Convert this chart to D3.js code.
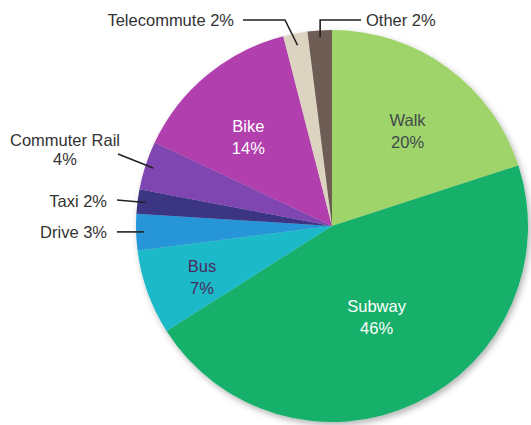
<!DOCTYPE html>
<html>
<head>
<meta charset="utf-8">
<script src="https://cdn.jsdelivr.net/npm/d3@7"></script>
<style>
  body { margin: 0; background: #fff; }
  text { font-family: "Liberation Sans", Arial, sans-serif; font-size: 16.5px; }
</style>
</head>
<body>
<div id="chart"></div>
<script>
// DATA
const modes = ["Walk", "Subway", "Bus", "Drive", "Taxi", "Commuter Rail", "Bike", "Telecommute", "Other"];
const shares = [20, 46, 7, 3, 2, 4, 14, 2, 2];
const colors = ["#9fd46b", "#17b06b", "#1cb9c9", "#2596d8", "#3b3484", "#7f45b1", "#b13fae", "#ddd3c1", "#6d5d55"];

const W = 531, H = 425;
const cx = 332, cy = 226, radius = 196;

const svg = d3.select("#chart").append("svg")
  .attr("width", W)
  .attr("height", H);

// soft shadow under the pie
const defs = svg.append("defs");
defs.append("filter")
  .attr("id", "shadow")
  .attr("x", "-20%").attr("y", "-20%")
  .attr("width", "140%").attr("height", "140%")
  .append("feDropShadow")
  .attr("dx", 2).attr("dy", 3)
  .attr("stdDeviation", 3)
  .attr("flood-color", "#000")
  .attr("flood-opacity", 0.3);

const g = svg.append("g").attr("transform", `translate(${cx},${cy})`);

const pie = d3.pie().sort(null).value(d => d.value);
const arcs = pie(modes.map((m, i) => ({ name: m, value: shares[i], color: colors[i] })));

const arc = d3.arc().innerRadius(0).outerRadius(radius);

g.append("g")
  .attr("filter", "url(#shadow)")
  .selectAll("path")
  .data(arcs)
  .join("path")
  .attr("d", arc)
  .attr("fill", d => d.data.color);

// inside labels: radius factor, nudge, colour
const inner = {
  "Walk":   { r: 0.63, dx: 3,   dy: 4,   fill: "#3f4a4a" },
  "Subway": { r: 0.63, dx: -8,  dy: -22, fill: "#ffffff" },
  "Bus":    { r: 0.70, dx: -1,  dy: 4,   fill: "#4a2a5a" },
  "Bike":   { r: 0.63, dx: -5,  dy: 5,   fill: "#ffffff" }
};

arcs.filter(d => inner[d.data.name]).forEach(d => {
  const o = inner[d.data.name];
  const a = (d.startAngle + d.endAngle) / 2;
  const x = Math.sin(a) * radius * o.r + o.dx;
  const y = -Math.cos(a) * radius * o.r + o.dy;
  const t = g.append("text")
    .attr("text-anchor", "middle")
    .attr("fill", o.fill);
  t.append("tspan").attr("x", x).attr("y", y - 4).text(d.data.name);
  t.append("tspan").attr("x", x).attr("y", y + 18).text(d.data.value + "%");
});

// outside labels with leader lines
const pt = (a, r) => [Math.sin(a) * r, -Math.cos(a) * r];
const mid = d => (d.startAngle + d.endAngle) / 2;
const byName = n => arcs.find(d => d.data.name === n);

const line = d3.line();
const leaders = g.append("g")
  .attr("fill", "none")
  .attr("stroke", "#222")
  .attr("stroke-width", 1.6);

// Telecommute
{
  const d = byName("Telecommute");
  const p = pt(mid(d), radius - 12);
  leaders.append("path").attr("d", line([[-89, -206], [-47, -206], p]));
  g.append("text").attr("x", -98).attr("y", -200).attr("text-anchor", "end")
    .attr("fill", "#333").text("Telecommute 2%");
}
// Other
{
  const d = byName("Other");
  const p = pt(mid(d), radius - 7);
  leaders.append("path").attr("d", line([[29, -206], [p[0], -206], p]));
  g.append("text").attr("x", 34).attr("y", -200).attr("fill", "#333").text("Other 2%");
}
// Commuter Rail
{
  const d = byName("Commuter Rail");
  const p = pt(mid(d), radius - 8);
  leaders.append("path").attr("d", line([[-214, -72], p]));
  const t = g.append("text").attr("text-anchor", "middle").attr("fill", "#333");
  t.append("tspan").attr("x", -267).attr("y", -80).text("Commuter Rail");
  t.append("tspan").attr("x", -267).attr("y", -61).text("4%");
}
// Taxi
{
  const d = byName("Taxi");
  const p = pt(mid(d), radius - 8);
  leaders.append("path").attr("d", line([[-215, -26], p]));
  g.append("text").attr("x", -225).attr("y", -19).attr("text-anchor", "end")
    .attr("fill", "#333").text("Taxi 2%");
}
// Drive
{
  const d = byName("Drive");
  const p = pt(mid(d), radius - 8);
  leaders.append("path").attr("d", line([[-215, p[1]], p]));
  g.append("text").attr("x", -225).attr("y", p[1] + 6).attr("text-anchor", "end")
    .attr("fill", "#333").text("Drive 3%");
}
</script>
</body>
</html>
